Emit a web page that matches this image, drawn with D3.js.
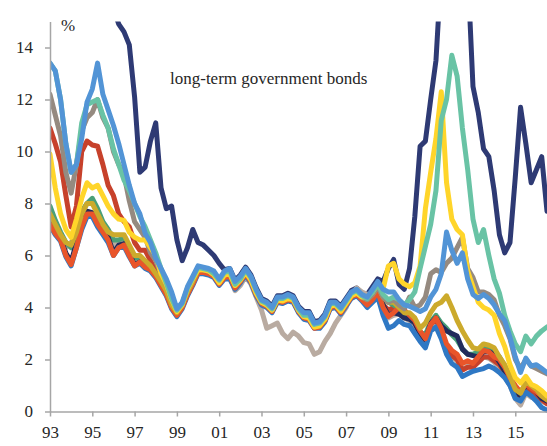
<!DOCTYPE html>
<html>
<head>
<meta charset="utf-8">
<script src="https://cdn.jsdelivr.net/npm/d3@7/dist/d3.min.js"></script>
<style>
  html, body { margin: 0; padding: 0; background: #ffffff; }
  svg { display: block; }
</style>
</head>
<body>
<svg id="chart" width="547" height="446"></svg>
<script>
// ---------------- DATA (quarterly, 1993Q1 .. 2016Q3) ----------------
const startYear = 1993;
const periods = d3.range(95).map(i => startYear + i * 0.25);

const xTickYears  = [1993, 1995, 1997, 1999, 2001, 2003, 2005, 2007, 2009, 2011, 2013, 2015];
const xTickLabels = ["93", "95", "97", "99", "01", "03", "05", "07", "09", "11", "13", "15"];
const yTickValues = [0, 2, 4, 6, 8, 10, 12, 14];

const greece = [
  23.0, 22.5, 21.5, 20.5,  20.0, 20.5, 21.0, 20.0,  19.0, 18.0, 17.5, 16.5,
  15.5, 14.9, 14.6, 14.1,  12.1, 9.2, 9.4, 10.4,   11.1, 8.6, 7.8, 7.9,
  6.6, 5.8, 6.3, 7.0,      6.5, 6.4, 6.2, 6.0,     5.7, 5.45, 5.5, 5.05,
  5.25, 5.55, 5.25, 4.75,  4.35, 4.25, 4.05, 4.45, 4.45, 4.55, 4.45, 4.05,
  3.85, 3.85, 3.45, 3.5,   3.75, 4.25, 4.25, 4.05, 4.35, 4.65, 4.75, 4.55,
  4.5, 4.8, 5.1, 5.0,      5.5, 5.85, 4.9, 4.7,    5.5, 7.5, 10.2, 10.4,
  12.0, 13.5, 17.0, 22.0,  30.0, 22.0, 27.0, 17.0, 12.5, 11.5, 10.1, 9.8,
  8.5, 6.8, 6.1, 6.5,      9.0, 11.7, 10.3, 8.8,   9.3, 9.8, 7.7
];
const portugal = [
  13.4, 13.1, 12.0, 10.3,  9.2, 9.5, 11.1, 11.8,   11.9, 12.0, 11.4, 10.9,
  10.1, 9.5, 8.9, 8.5,     8.0, 7.5, 7.1, 6.6,     6.1, 5.5, 4.95, 4.35,
  3.9, 4.15, 4.75, 5.15,   5.55, 5.5, 5.45, 5.3,   5.05, 5.35, 5.4, 4.9,
  5.1, 5.45, 5.15, 4.65,   4.25, 4.15, 3.95, 4.35, 4.35, 4.45, 4.35, 3.95,
  3.7, 3.7, 3.35, 3.4,     3.65, 4.15, 4.15, 3.95, 4.25, 4.55, 4.65, 4.45,
  4.35, 4.6, 4.9, 4.5,     4.3, 4.4, 4.3, 4.1,     4.3, 4.6, 5.5, 6.35,
  7.2, 8.5, 11.2, 12.0,    13.7, 12.9, 10.9, 9.3,  7.4, 6.5, 7.0, 6.0,
  5.1, 4.55, 3.7, 3.1,     2.6, 2.3, 2.9, 2.6,     2.9, 3.1, 3.25
];
const ireland = [
  9.9, 8.6, 7.6, 7.0,      6.7, 7.4, 8.2, 8.8,     8.6, 8.7, 8.3, 7.9,
  7.6, 7.4, 7.35, 6.9,     6.7, 6.6, 6.6, 6.3,     6.0, 5.3, 4.9, 4.3,
  3.85, 4.1, 4.7, 5.1,     5.45, 5.45, 5.4, 5.25,  4.95, 5.25, 5.3, 4.85,
  5.05, 5.35, 5.05, 4.55,  4.2, 4.1, 3.9, 4.3,     4.25, 4.35, 4.3, 3.9,
  3.65, 3.6, 3.25, 3.3,    3.55, 4.05, 4.1, 3.85,  4.15, 4.45, 4.55, 4.4,
  4.4, 4.6, 4.9, 4.7,      5.6, 5.7, 5.1, 4.9,     4.8, 4.95, 5.6, 7.8,
  9.2, 10.5, 12.3, 8.8,    7.4, 7.0, 6.8, 5.4,     4.8, 4.2, 4.0, 3.9,
  3.7, 3.0, 2.5, 1.8,      1.3, 1.1, 1.35, 1.05,   0.95, 0.8, 0.6
];
const italy = [
  13.4, 13.1, 12.0, 10.3,  9.2, 9.5, 10.5, 11.9,   12.4, 13.4, 12.2, 11.6,
  11.0, 10.3, 9.5, 8.7,    8.0, 7.6, 6.85, 6.5,    5.9, 5.5, 5.1, 4.6,
  3.95, 4.2, 4.8, 5.2,     5.6, 5.55, 5.5, 5.4,    5.1, 5.4, 5.5, 5.0,
  5.2, 5.5, 5.2, 4.7,      4.3, 4.2, 4.0, 4.4,     4.4, 4.5, 4.4, 4.0,
  3.8, 3.8, 3.4, 3.45,     3.7, 4.2, 4.2, 4.0,     4.3, 4.6, 4.7, 4.5,
  4.4, 4.7, 5.0, 4.7,      4.6, 4.6, 4.3, 4.1,     4.05, 3.95, 3.85, 3.95,
  4.4, 4.7, 5.3, 6.9,      6.2, 5.7, 6.1, 5.1,     4.5, 4.35, 4.5, 4.35,
  4.1, 3.75, 3.5, 2.85,    2.1, 1.5, 2.05, 1.75,   1.8, 1.65, 1.5
];
const spain = [
  12.2, 11.4, 10.6, 9.2,   8.4, 9.5, 10.8, 11.3,   11.5, 12.0, 11.3, 10.9,
  10.0, 9.5, 9.1, 8.1,     7.3, 7.0, 6.7, 6.1,     5.8, 5.3, 4.9, 4.3,
  3.9, 4.1, 4.7, 5.1,      5.5, 5.45, 5.4, 5.3,    5.0, 5.3, 5.4, 4.9,
  5.1, 5.4, 5.1, 4.6,      4.2, 4.1, 3.9, 4.3,     4.3, 4.4, 4.3, 3.9,
  3.7, 3.65, 3.3, 3.35,    3.6, 4.1, 4.1, 3.9,     4.2, 4.5, 4.6, 4.4,
  4.3, 4.5, 4.8, 4.4,      4.2, 4.3, 4.1, 3.95,    4.4, 4.0, 4.1, 4.4,
  5.3, 5.45, 5.35, 5.7,    5.9, 6.3, 6.7, 5.5,     5.15, 4.6, 4.6, 4.5,
  4.3, 3.7, 3.3, 2.8,      2.0, 1.65, 2.0, 1.75,   1.65, 1.55, 1.45
];
const belgium = [
  7.6, 7.2, 6.8, 6.5,      6.4, 6.9, 7.6, 8.0,     8.0, 7.6, 7.2, 6.9,
  6.8, 6.8, 6.8, 6.4,      6.0, 6.0, 5.8, 5.6,     5.3, 5.0, 4.65, 4.1,
  3.8, 4.1, 4.6, 5.0,      5.45, 5.45, 5.4, 5.3,   5.0, 5.25, 5.3, 4.85,
  5.1, 5.4, 5.1, 4.6,      4.2, 4.1, 3.9, 4.3,     4.3, 4.4, 4.3, 3.9,
  3.65, 3.6, 3.25, 3.3,    3.6, 4.1, 4.1, 3.9,     4.2, 4.5, 4.6, 4.4,
  4.3, 4.5, 4.8, 4.4,      4.2, 4.2, 4.0, 3.8,     3.8, 3.6, 3.2, 3.4,
  3.8, 4.1, 4.2, 4.45,     4.0, 3.5, 3.1, 2.75,    2.45, 2.4, 2.6, 2.55,
  2.45, 2.1, 1.8, 1.35,    0.85, 0.7, 1.15, 1.0,   0.85, 0.6, 0.45
];
const finland = [
  10.9, 10.3, 9.6, 8.3,    7.1, 7.9, 10.0, 10.4,   10.25, 10.2, 9.5, 8.7,
  8.3, 7.6, 7.3, 7.1,      6.5, 6.2, 6.2, 5.8,     5.4, 5.0, 4.7, 4.15,
  3.8, 4.05, 4.55, 4.95,   5.4, 5.4, 5.35, 5.25,   4.95, 5.2, 5.25, 4.8,
  5.05, 5.35, 5.05, 4.55,  4.15, 4.05, 3.85, 4.25, 4.2, 4.3, 4.25, 3.85,
  3.6, 3.55, 3.25, 3.25,   3.55, 4.0, 4.05, 3.85,  4.1, 4.45, 4.5, 4.35,
  4.15, 4.4, 4.65, 4.1,    3.9, 4.0, 4.05, 3.85,   3.7, 3.4, 2.95, 2.75,
  3.35, 3.55, 3.1, 2.45,   2.15, 2.0, 1.6, 1.7,    1.7, 1.9, 2.1, 2.1,
  1.95, 1.8, 1.5, 1.15,    0.7, 0.55, 0.9, 0.75,   0.6, 0.45, 0.3
];
const austria = [
  7.9, 7.35, 6.9, 6.5,     6.3, 7.0, 7.7, 8.0,     8.2, 7.8, 7.3, 7.0,
  6.6, 6.6, 6.7, 6.3,      5.9, 5.9, 5.7, 5.5,     5.3, 4.95, 4.6, 4.05,
  3.75, 4.05, 4.55, 4.95,  5.4, 5.4, 5.35, 5.25,   4.95, 5.2, 5.25, 4.8,
  5.05, 5.35, 5.05, 4.6,   4.2, 4.1, 3.9, 4.3,     4.25, 4.35, 4.3, 3.9,
  3.65, 3.6, 3.3, 3.3,     3.55, 4.05, 4.1, 3.85,  4.15, 4.45, 4.55, 4.35,
  4.2, 4.45, 4.75, 4.3,    4.2, 4.1, 3.95, 3.8,    3.7, 3.45, 3.05, 2.95,
  3.45, 3.7, 3.4, 3.2,     2.95, 2.75, 2.4, 2.2,   2.2, 2.3, 2.45, 2.4,
  2.3, 2.1, 1.75, 1.35,    0.85, 0.65, 1.1, 0.95,  0.8, 0.6, 0.45
];
const france = [
  7.25, 6.9, 6.65, 6.1,    5.75, 6.5, 7.2, 7.7,    7.65, 7.3, 7.0, 6.7,
  6.1, 6.4, 6.45, 6.05,    5.65, 5.75, 5.6, 5.45,  5.2, 4.9, 4.55, 4.05,
  3.75, 4.05, 4.55, 4.95,  5.4, 5.4, 5.35, 5.25,   4.95, 5.2, 5.25, 4.8,
  5.05, 5.35, 5.05, 4.55,  4.15, 4.05, 3.85, 4.25, 4.2, 4.3, 4.25, 3.85,
  3.6, 3.55, 3.25, 3.25,   3.5, 4.0, 4.05, 3.85,   4.1, 4.4, 4.5, 4.35,
  4.1, 4.35, 4.6, 4.1,     3.7, 3.8, 3.75, 3.6,    3.55, 3.4, 3.0, 2.75,
  3.4, 3.6, 3.3, 3.1,      3.0, 2.9, 2.4, 2.2,     2.15, 2.1, 2.3, 2.3,
  2.2, 1.9, 1.55, 1.3,     0.8, 0.6, 1.05, 0.95,   0.75, 0.5, 0.4
];
const luxembourg = [
  7.3, 6.95, 6.7, 6.3,     6.5, 6.8, 7.4, 7.7,     7.6, 7.4, 7.1, 6.9,
  6.4, 6.5, 6.6, 6.2,      5.8, 5.8, 5.6, 5.5,     5.25, 4.9, 4.55, 4.05,
  3.75, 4.05, 4.5, 4.9,    5.35, 5.35, 5.3, 5.2,   4.9, 5.15, 5.2, 4.65,
  4.85, 5.2, 4.9, 4.4,     3.9, 3.2, 3.3, 3.4,     3.0, 2.8, 3.05, 2.9,
  2.65, 2.6, 2.2, 2.3,     2.7, 3.0, 3.4, 3.7,     4.0, 4.5, 4.75, 4.6,
  4.5, 4.5, 4.6, 4.0,      3.6, 3.7, 3.75, 3.6,    3.5, 3.3, 2.95, 2.7,
  3.2, 3.4, 3.0, 2.4,      2.1, 1.95, 1.6, 1.75,   1.75, 1.9, 2.1, 2.05,
  1.9, 1.7, 1.35, 1.0,     0.5, 0.25, 0.7, 0.55,   0.5, 0.4, 0.3
];
const germany = [
  7.15, 6.8, 6.55, 5.95,   5.6, 6.3, 7.0, 7.5,     7.5, 7.1, 6.8, 6.5,
  6.0, 6.3, 6.35, 5.95,    5.6, 5.7, 5.5, 5.4,     5.15, 4.8, 4.45, 3.95,
  3.65, 3.95, 4.45, 4.85,  5.3, 5.3, 5.25, 5.15,   4.85, 5.1, 5.1, 4.7,
  4.95, 5.25, 4.95, 4.45,  4.1, 4.0, 3.8, 4.2,     4.15, 4.25, 4.2, 3.8,
  3.55, 3.5, 3.2, 3.2,     3.45, 3.95, 4.0, 3.75,  4.05, 4.35, 4.45, 4.25,
  4.0, 4.2, 4.4, 3.7,      3.2, 3.3, 3.5, 3.35,    3.3, 3.0, 2.7, 2.45,
  3.1, 3.25, 2.8, 2.2,     1.85, 1.7, 1.35, 1.45,  1.55, 1.6, 1.65, 1.75,
  1.65, 1.5, 1.3, 1.0,     0.5, 0.4, 0.75, 0.6,    0.4, 0.15, 0.05
];
const netherlands = [
  7.2, 6.85, 6.6, 6.0,     5.65, 6.3, 7.1, 7.6,    7.6, 7.2, 6.9, 6.6,
  6.0, 6.3, 6.4, 6.0,      5.6, 5.75, 5.55, 5.45,  5.2, 4.85, 4.5, 4.0,
  3.7, 4.0, 4.5, 4.9,      5.35, 5.35, 5.3, 5.2,   4.9, 5.15, 5.2, 4.75,
  5.0, 5.3, 5.0, 4.5,      4.15, 4.05, 3.85, 4.25, 4.2, 4.3, 4.25, 3.85,
  3.6, 3.55, 3.2, 3.25,    3.5, 4.0, 4.05, 3.8,    4.1, 4.4, 4.5, 4.3,
  4.1, 4.3, 4.6, 4.0,      3.65, 3.8, 4.0, 3.9,    3.7, 3.5, 3.1, 2.8,
  3.35, 3.6, 3.2, 2.6,     2.35, 2.2, 1.85, 1.95,  1.85, 2.1, 2.35, 2.3,
  2.1, 2.0, 1.7, 1.3,      1.0, 0.75, 1.05, 0.9,   0.75, 0.6, 0.45
];

// drawing order (first = bottom)
const seriesNames  = ["Greece", "Luxembourg", "Finland", "Austria", "France", "Germany",
                      "Netherlands", "Belgium", "Spain", "Ireland", "Portugal", "Italy"];
const seriesValues = [greece, luxembourg, finland, austria, france, germany,
                      netherlands, belgium, spain, ireland, portugal, italy];
const seriesColors = ["#2e3a74", "#b9aba1", "#c7412b", "#4a9f78", "#222c5c", "#2f78c4",
                      "#e9552a", "#ccaa2c", "#958a80", "#ffd52a", "#69c3a5", "#5294d6"];

// ---------------- CHART ----------------
const svg = d3.select("#chart");
const W = 547, H = 446;
const plot = { left: 50, right: 547, top: 21.5, bottom: 411.5 };
const FONT = "'Liberation Serif', 'Times New Roman', Times, serif";
const TEXT = "#262626";
const AXIS = "#a6a6a6";

svg.append("rect").attr("width", W).attr("height", H).attr("fill", "#ffffff");

const x = d3.scaleLinear().domain([1993, 2016.5]).range([plot.left, plot.right]);
const y = d3.scaleLinear().domain([0, 15]).range([plot.bottom, plot.top]);

svg.append("defs").append("clipPath").attr("id", "plotClip")
  .append("rect")
  .attr("x", plot.left).attr("y", plot.top)
  .attr("width", plot.right - plot.left)
  .attr("height", plot.bottom - plot.top + 4);

const line = d3.line()
  .x((d, i) => x(periods[i]))
  .y(d => y(d))
  .curve(d3.curveLinear);

const g = svg.append("g").attr("clip-path", "url(#plotClip)");
seriesValues.forEach((vals, k) => {
  g.append("path")
    .datum(vals)
    .attr("class", "series " + seriesNames[k])
    .attr("fill", "none")
    .attr("stroke", seriesColors[k])
    .attr("stroke-width", 5)
    .attr("stroke-linejoin", "round")
    .attr("stroke-linecap", "round")
    .attr("d", line);
});

// axes
const xAxis = d3.axisBottom(x)
  .tickValues(xTickYears)
  .tickFormat((d, i) => xTickLabels[i])
  .tickSize(5).tickSizeOuter(0).tickPadding(9.5);
const gx = svg.append("g").attr("transform", `translate(0,${plot.bottom})`).call(xAxis);

const yAxis = d3.axisLeft(y)
  .tickValues(yTickValues)
  .tickFormat(d3.format("d"))
  .tickSize(5).tickSizeOuter(0).tickPadding(12);
const gy = svg.append("g").attr("transform", `translate(${plot.left},0)`).call(yAxis);

[gx, gy].forEach(a => {
  a.select(".domain").attr("stroke", AXIS).attr("stroke-width", 1.5);
  a.selectAll(".tick line").attr("stroke", AXIS).attr("stroke-width", 1.5);
  a.selectAll(".tick text")
    .attr("fill", TEXT)
    .style("font-family", FONT)
    .style("font-size", "17px");
});

// labels
svg.append("text")
  .attr("x", 61).attr("y", 31)
  .attr("fill", TEXT)
  .style("font-family", FONT).style("font-size", "17px")
  .text("%");

svg.append("text")
  .attr("x", 170).attr("y", 84)
  .attr("fill", TEXT)
  .style("font-family", FONT).style("font-size", "17px")
  .text("long-term government bonds");
</script>
</body>
</html>
